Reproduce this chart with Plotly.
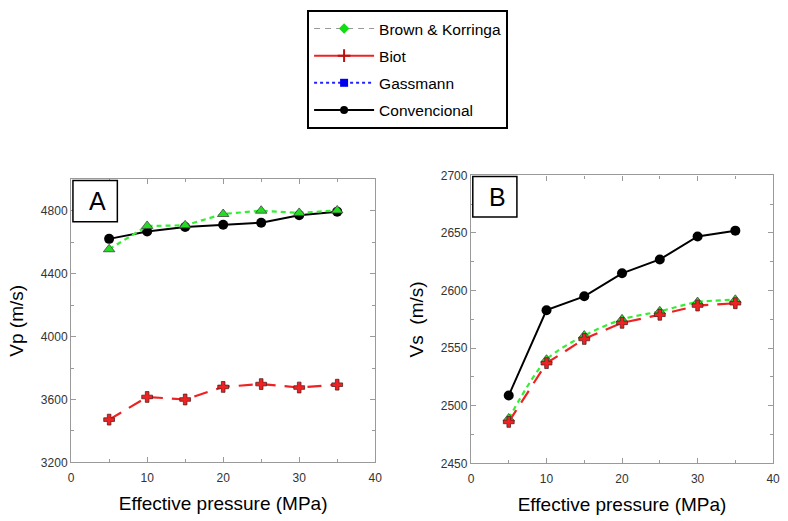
import plotly.graph_objects as go

# Effective pressure steps (MPa)
pressure = [5, 10, 15, 20, 25, 30, 35]

# Panel A: P-wave velocity (m/s)
vp_convencional = [4621, 4668, 4697, 4711, 4724, 4771, 4794]
vp_brown_korringa = [4555, 4703, 4707, 4779, 4800, 4786, 4802]
vp_biot = [3472, 3616, 3600, 3680, 3698, 3676, 3694]

# Panel B: S-wave velocity (m/s)
vs_convencional = [2509, 2583, 2595, 2615, 2627, 2647, 2652]
vs_brown_korringa = [2489, 2540, 2561, 2575, 2582, 2590, 2592]
vs_biot = [2486, 2537, 2558, 2572, 2579, 2587, 2589]

legend_names = ["Brown & Korringa", "Biot", "Gassmann", "Convencional"]

W, H = 788, 521
BLACK = "#000000"
GREEN = "#22dd22"
GREEN_LINE = "#33ee33"
RED = "#ee2222"
AXIS_GRAY = "#9a9a9a"
FONT = "Liberation Sans, Arial"

fig = go.Figure()


def add_panel(xa, ya, conv, bk, biot, smooth):
    fig.add_trace(go.Scatter(
        x=pressure, y=conv, xaxis=xa, yaxis=ya, mode="lines+markers",
        line=dict(color=BLACK, width=2),
        marker=dict(symbol="circle", size=10, color=BLACK),
        showlegend=False, hoverinfo="skip"))
    fig.add_trace(go.Scatter(
        x=pressure, y=bk, xaxis=xa, yaxis=ya, mode="lines+markers",
        line=dict(color=GREEN_LINE, width=2.2, dash="5px,4px",
                  shape="spline" if smooth else "linear", smoothing=0.8),
        marker=dict(symbol="triangle-up", size=10, color=GREEN,
                    line=dict(color="#444444", width=0.8)),
        showlegend=False, hoverinfo="skip"))
    fig.add_trace(go.Scatter(
        x=pressure, y=biot, xaxis=xa, yaxis=ya, mode="lines+markers",
        line=dict(color=RED, width=2.2, dash="14px,9px"),
        marker=dict(symbol="cross", size=9, color=RED,
                    line=dict(color="#552222", width=0.8)),
        showlegend=False, hoverinfo="skip"))


add_panel("x", "y", vp_convencional, vp_brown_korringa, vp_biot, False)
add_panel("x2", "y2", vs_convencional, vs_brown_korringa, vs_biot, True)

# Legend entries
legend_styles = [
    dict(line=dict(color="#999999", width=1.2, dash="6px,5px"),
         marker=dict(symbol="diamond", size=8, color="#11dd11")),
    dict(line=dict(color=RED, width=2, dash="solid"),
         marker=dict(symbol="cross-thin", size=9, color="#bb1111",
                     line=dict(color="#bb1111", width=2))),
    dict(line=dict(color="#2222ff", width=2, dash="dot"),
         marker=dict(symbol="square", size=8, color="#0000ee")),
    dict(line=dict(color=BLACK, width=2),
         marker=dict(symbol="circle", size=8, color=BLACK)),
]
for i, (name, st) in enumerate(zip(legend_names, legend_styles)):
    fig.add_trace(go.Scatter(
        x=[None], y=[None], mode="lines+markers", name=name,
        legendgroup=f"g{i}", **st))


def px_x(p):
    return p / W


def px_y(p):
    return 1 - p / H


axis_common = dict(
    showline=True, linecolor=AXIS_GRAY, linewidth=1.3, mirror="ticks",
    ticks="inside", ticklen=5, tickcolor=AXIS_GRAY, tickwidth=1,
    showgrid=False, zeroline=False,
    tickfont=dict(family=FONT, size=12, color="#333333"),
)
title_font = dict(family=FONT, size=19, color=BLACK)
x_minor = dict(dtick=5, ticks="inside", ticklen=3, tickcolor=AXIS_GRAY)

fig.update_layout(
    width=W, height=H,
    margin=dict(l=0, r=0, t=0, b=0),
    paper_bgcolor="white", plot_bgcolor="white",
    font=dict(family=FONT, color=BLACK),
    xaxis=dict(domain=[px_x(69), px_x(377)], range=[0, 40], dtick=10, tick0=0,
               minor=x_minor, ticklabelstandoff=4,
               title=dict(text="Effective pressure (MPa)", font=title_font, standoff=12),
               anchor="y", **axis_common),
    yaxis=dict(domain=[px_y(468), px_y(177)], range=[3200, 5000], dtick=400, tick0=3200,
               minor=dict(dtick=200, ticks="inside", ticklen=3, tickcolor=AXIS_GRAY),
               title=dict(text="Vp (m/s)", font=title_font, standoff=12),
               anchor="x", **axis_common),
    xaxis2=dict(domain=[px_x(474), px_x(780)], range=[0, 40], dtick=10, tick0=0,
                minor=x_minor, ticklabelstandoff=4,
                title=dict(text="Effective pressure (MPa)", font=title_font, standoff=12),
                anchor="y2", **axis_common),
    yaxis2=dict(domain=[px_y(469), px_y(173)], range=[2450, 2700], dtick=50, tick0=2450,
                minor=dict(dtick=25, ticks="inside", ticklen=3, tickcolor=AXIS_GRAY),
                title=dict(text="Vs  (m/s)", font=title_font, standoff=12),
                anchor="x2", **axis_common),
    legend=dict(
        x=px_x(308), y=px_y(3), xanchor="left", yanchor="top",
        bordercolor=BLACK, borderwidth=2, bgcolor="white",
        font=dict(family=FONT, size=15.5, color=BLACK),
        traceorder="grouped", tracegroupgap=4, itemwidth=60,
    ),
)

# Panel labels in boxed insets
for xref, yref, label, x1, y0 in [("x domain", "y domain", "A", 0.152, 0.85),
                                  ("x2 domain", "y2 domain", "B", 0.152, 0.855)]:
    fig.add_shape(type="rect", xref=xref, yref=yref, x0=0.006, x1=x1, y0=y0, y1=0.996,
                  line=dict(color=BLACK, width=1.5), fillcolor="white")
    fig.add_annotation(xref=xref, yref=yref, x=(0.006 + x1) / 2 + 0.008, y=(y0 + 0.996) / 2,
                       xanchor="center", yanchor="middle",
                       text=label, showarrow=False,
                       font=dict(family=FONT, size=25, color=BLACK))

fig.write_html("out.html")
